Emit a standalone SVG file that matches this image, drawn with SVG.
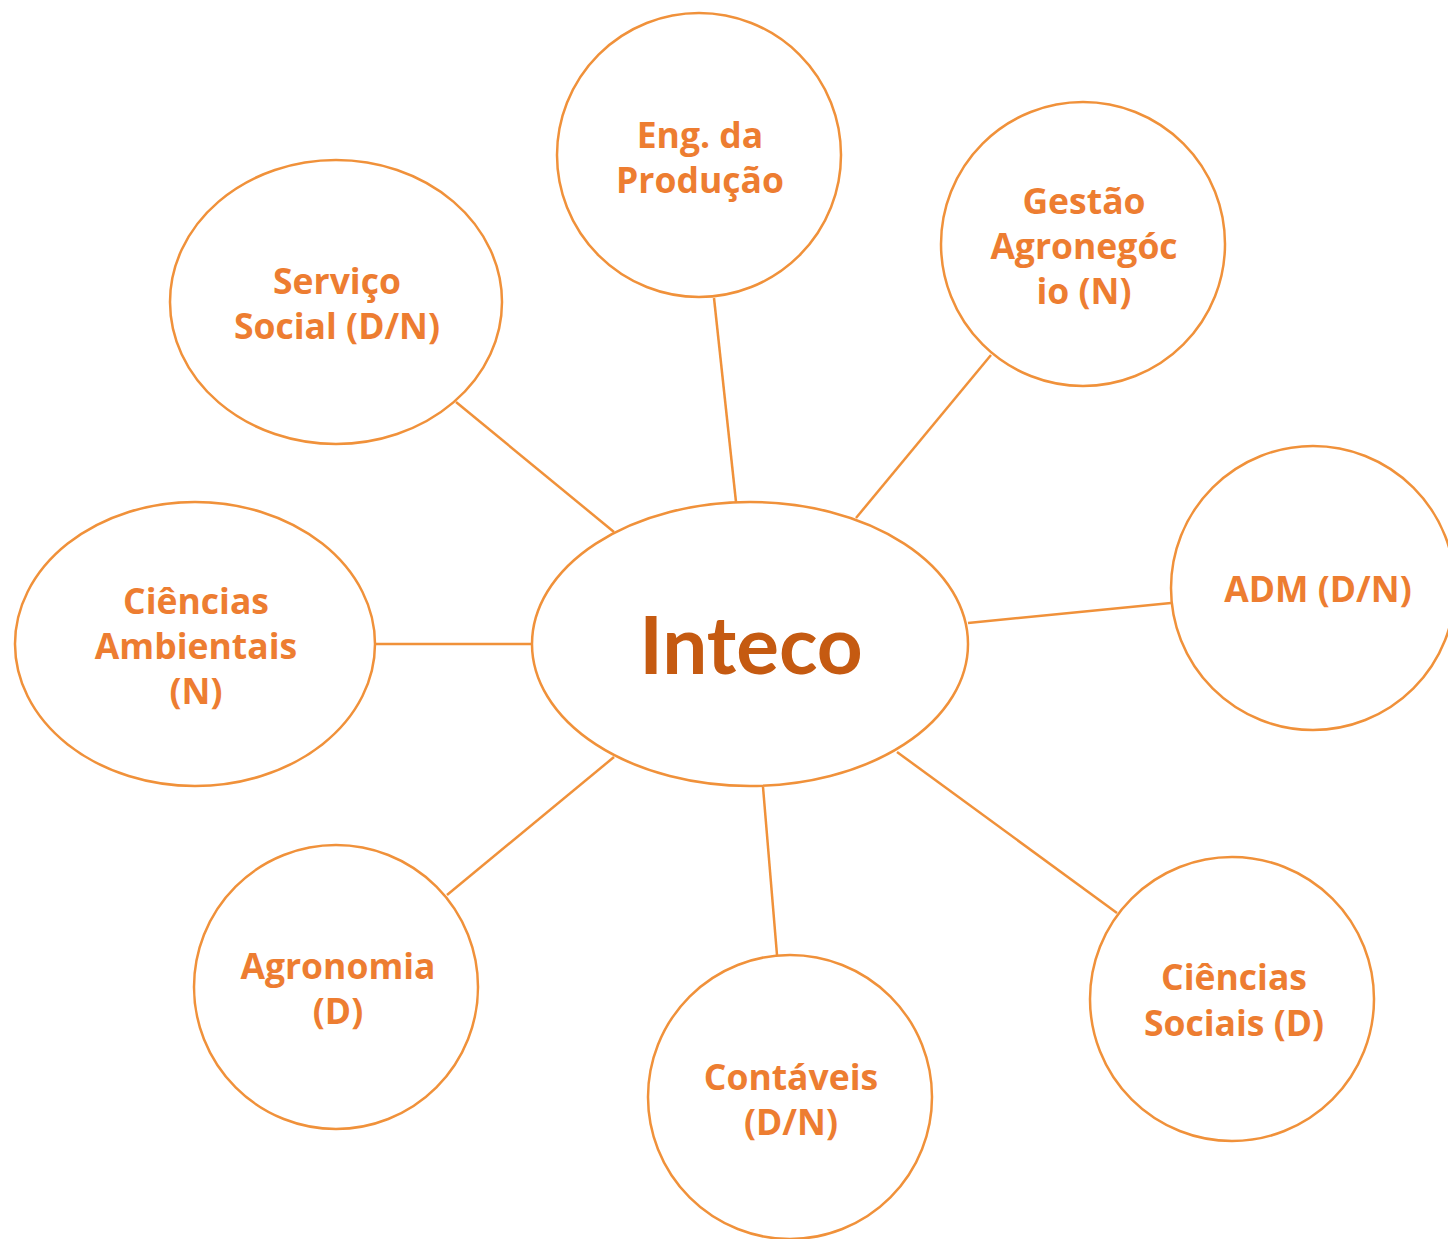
<svg xmlns="http://www.w3.org/2000/svg" width="1448" height="1239" viewBox="0 0 1448 1239">
<style>
.n{fill:#fff;stroke:#F0913A;stroke-width:2.5}
.c line{stroke:#F0913A;stroke-width:2.5}
.t{font-family:"Open Sans",Lato,sans-serif;font-weight:bold;font-size:35.5px;fill:#ED7D31;text-anchor:middle}
.m{font-family:Lato,"Open Sans",sans-serif;font-weight:bold;font-size:80px;fill:#C55A11;text-anchor:middle}
</style>
<rect width="1448" height="1239" fill="#fff"/>
<g class="c" id="connectors">
<line x1="456" y1="402" x2="614" y2="532"/>
<line x1="714" y1="298" x2="736" y2="502"/>
<line x1="991" y1="355" x2="856" y2="518"/>
<line x1="1171" y1="603" x2="968" y2="623"/>
<line x1="375" y1="644" x2="532" y2="644"/>
<line x1="447" y1="895" x2="614" y2="757"/>
<line x1="763" y1="787" x2="777" y2="955"/>
<line x1="897" y1="752" x2="1117" y2="913"/>
</g>
<g id="inteco"><ellipse class="n" cx="750" cy="644" rx="218" ry="142"/><text class="m" x="751" y="674">Inteco</text></g>
<g id="eng"><circle class="n" cx="699" cy="155" r="142"/><text class="t" x="700" y="148">Eng. da</text><text class="t" x="700" y="193">Produção</text></g>
<g id="gestao"><circle class="n" cx="1083" cy="244" r="142"/><text class="t" x="1084" y="214">Gestão</text><text class="t" x="1084" y="259">Agronegóc</text><text class="t" x="1084" y="304">io (N)</text></g>
<g id="adm"><circle class="n" cx="1313" cy="588" r="142"/><text class="t" x="1318" y="602">ADM (D/N)</text></g>
<g id="sociais"><circle class="n" cx="1232" cy="999" r="142"/><text class="t" x="1234" y="990">Ciências</text><text class="t" x="1234" y="1036">Sociais (D)</text></g>
<g id="contaveis"><circle class="n" cx="790" cy="1097" r="142"/><text class="t" x="791" y="1090">Contáveis</text><text class="t" x="791" y="1135">(D/N)</text></g>
<g id="agronomia"><circle class="n" cx="336" cy="987" r="142"/><text class="t" x="338" y="979">Agronomia</text><text class="t" x="338" y="1024">(D)</text></g>
<g id="ambientais"><ellipse class="n" cx="195" cy="644" rx="180" ry="142"/><text class="t" x="196" y="614">Ciências</text><text class="t" x="196" y="659">Ambientais</text><text class="t" x="196" y="704">(N)</text></g>
<g id="servico"><ellipse class="n" cx="336" cy="302" rx="166" ry="142"/><text class="t" x="337" y="294">Serviço</text><text class="t" x="337" y="339">Social (D/N)</text></g>
</svg>
